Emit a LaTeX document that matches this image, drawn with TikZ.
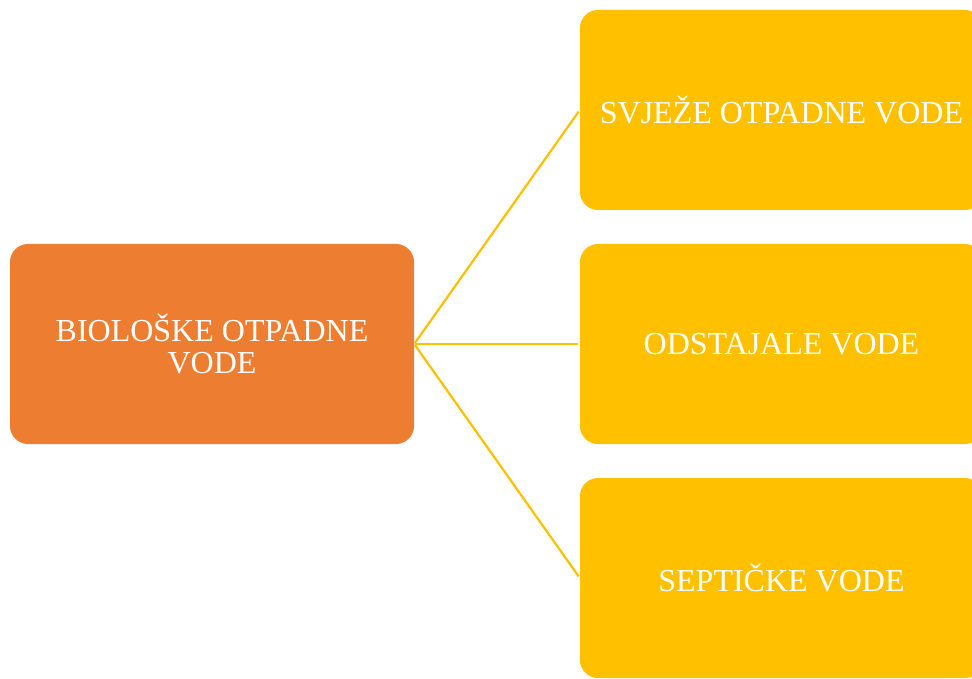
\documentclass[tikz,border=0pt]{standalone}
\usepackage{fontspec}
\setmainfont{Liberation Serif}
\definecolor{boxorange}{HTML}{ED7D31}
\definecolor{boxgold}{HTML}{FFC000}
\begin{document}
\begin{tikzpicture}[x=1pt,y=-1pt,
  box/.style={rectangle, rounded corners=18pt, minimum width=404pt, minimum height=200pt,
    inner sep=0pt, text=white, align=center, font=\fontsize{32}{32}\selectfont},
  leftbox/.style={box, fill=boxorange},
  rightbox/.style={box, fill=boxgold, minimum width=403pt},
  link/.style={draw=boxgold, line width=2.2pt}]
\useasboundingbox (0,0) rectangle (972,679);
\clip (0,0) rectangle (972,679);
\node[leftbox] (bio) at (212,344) {BIOLOŠKE OTPADNE\\VODE};
\node[rightbox] (svj) at (781.5,110) {SVJEŽE OTPADNE VODE};
\node[rightbox] (ods) at (781.5,344) {ODSTAJALE VODE};
\node[rightbox] (sep) at (781.5,578) {SEPTIČKE VODE};
\draw[link, shorten >=2pt, shorten <=1pt] (bio.east) -- (svj.west);
\draw[link, shorten >=2pt, shorten <=1pt] (bio.east) -- (ods.west);
\draw[link, shorten >=2pt, shorten <=1pt] (bio.east) -- (sep.west);
\end{tikzpicture}
\end{document}
